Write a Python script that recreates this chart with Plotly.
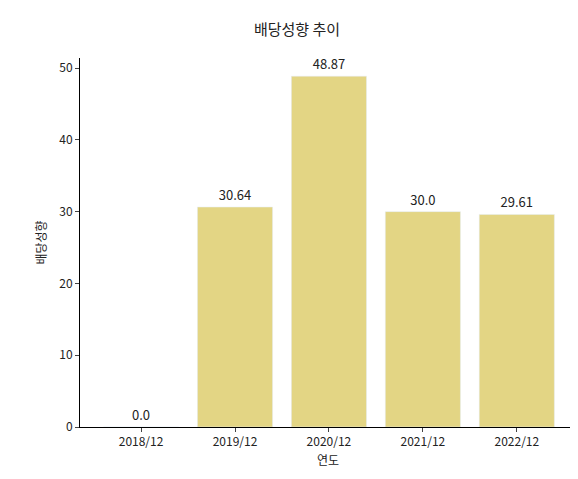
import plotly.graph_objects as go

years = ["2018/12", "2019/12", "2020/12", "2021/12", "2022/12"]
payout = [0.0, 30.64, 48.87, 30.0, 29.61]
labels = ["0.0", "30.64", "48.87", "30.0", "29.61"]

font = "Noto Sans CJK KR"
fig = go.Figure(go.Bar(
    x=list(range(len(years))), y=payout, text=labels, textposition="outside",
    marker_color="#E3D584", width=0.8, cliponaxis=False,
    textfont=dict(size=13, color="#222"), textangle=0,
))
fig.update_layout(
    width=578, height=479, plot_bgcolor="white", paper_bgcolor="white",
    font=dict(family=font, size=12, color="#222"),
    title=dict(text="배당성향 추이", x=0.5, xanchor="center", y=0.965, font=dict(size=15)),
    margin=dict(l=72, r=10, t=50, b=60, autoexpand=False), showlegend=False,
)
fig.update_xaxes(range=[-0.65, 4.63], tickvals=list(range(len(years))), ticktext=years,
                 showline=True, linecolor="black", ticks="outside", ticklen=4,
                 title=dict(text="연도", standoff=8, font=dict(size=12)), showgrid=False, automargin=False)
fig.update_yaxes(range=[0, 51.4], tickvals=[0, 10, 20, 30, 40, 50],
                 showline=True, linecolor="black", ticks="outside", ticklen=4,
                 title=dict(text="배당성향", standoff=10, font=dict(size=12)), showgrid=False, zeroline=False,
                 automargin=False)
fig.write_html("out.html")
